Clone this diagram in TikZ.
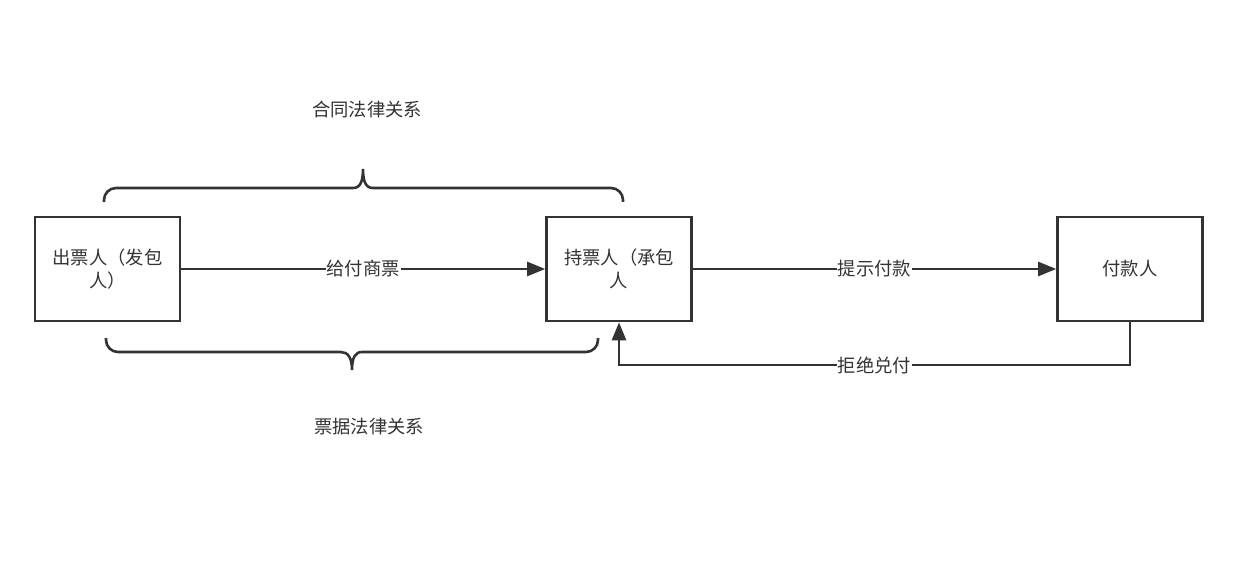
\documentclass[tikz,border=0pt]{standalone}
\usepackage{fontspec}
\setmainfont{Noto Sans CJK SC}
\usetikzlibrary{arrows.meta}
\definecolor{ink}{HTML}{333333}
\tikzset{
  box/.style={draw=ink, line width=2.6pt, rectangle, minimum width=145pt, minimum height=104pt, align=center, text=ink, font=\fontsize{18.3}{23}\selectfont, inner sep=0pt},
  conn/.style={draw=ink, line width=2.6pt, -{Triangle[length=18pt,width=14pt]}},
  lbl/.style={fill=white, text=ink, inner sep=1pt, font=\fontsize{18.3}{23}\selectfont},
  brace/.style={draw=ink, line width=2.6pt},
  ttl/.style={text=ink, font=\fontsize{18.3}{23}\selectfont}
}
\begin{document}
\begin{tikzpicture}[x=1pt,y=-1pt]
\useasboundingbox[fill=white] (0,0) rectangle (1238,561);
\node[box] (a) at (107.5,269) {出票人（发包\\人）};
\node[box] (b) at (619,269) {持票人（承包\\人};
\node[box] (c) at (1130,269) {付款人};
\draw[conn] (a) -- node[lbl]{给付商票} (b);
\draw[conn] (b) -- node[lbl]{提示付款} (c);
\coordinate (lvl) at (0,365);
\draw[conn] (c.south) -- (c.south |- lvl) -- node[lbl]{拒绝兑付} (b.south |- lvl) -- (b.south);
% top brace
\coordinate (t1) at (104,202);
\coordinate (t2) at (623,202);
\coordinate (ttip) at (363,169);
\draw[brace] (t1) -- (104,200) .. controls (104,193.4) and (109.4,188) .. (116,188) -- (353,188)
  .. controls (360,188) and (363,182) .. (ttip)
  .. controls (363,182) and (366,188) .. (373,188) -- (611,188)
  .. controls (617.6,188) and (623,193.4) .. (623,200) -- (t2);
% bottom brace
\coordinate (b1) at (106,338);
\coordinate (b2) at (598,338);
\coordinate (btip) at (352,370);
\draw[brace] (b1) -- (106,340) .. controls (106,346.6) and (111.4,352) .. (118,352) -- (341,352)
  .. controls (348,352) and (352,358) .. (btip)
  .. controls (352,358) and (355,352) .. (362,352) -- (586,352)
  .. controls (592.6,352) and (598,346.6) .. (598,340) -- (b2);
\node[ttl] (tt) at (367,110) {合同法律关系};
\node[ttl] (bt) at (369,427) {票据法律关系};
\end{tikzpicture}
\end{document}
